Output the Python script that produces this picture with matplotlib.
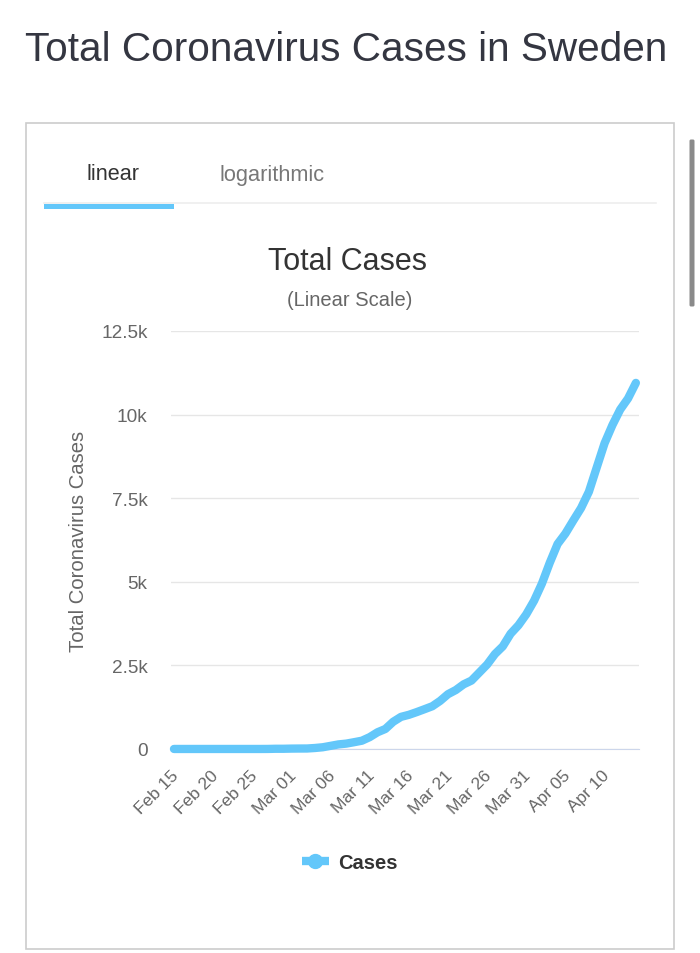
"""Total coronavirus cases in Sweden, phone screenshot style."""
import matplotlib

matplotlib.use("Agg")
import matplotlib.pyplot as plt
from matplotlib.patches import FancyBboxPatch, Rectangle
from matplotlib.transforms import ScaledTranslation

plt.rcParams["font.family"] = ["Liberation Sans", "DejaVu Sans"]

W, H = 700, 954
BLUE = "#63c7fa"

cases = [
    1, 1, 1, 1, 1, 1, 1, 1, 1, 1, 1, 1,
    2, 7, 7, 12, 14, 15, 30, 52, 94, 137,
    161, 203, 248, 355, 500, 599, 814, 961, 1022, 1103,
    1190, 1279, 1439, 1639, 1763, 1934, 2046, 2286, 2526, 2840,
    3069, 3447, 3700, 4028, 4435, 4947, 5568, 6131, 6443, 6830,
    7206, 7693, 8419, 9141, 9685, 10151, 10483, 10948,
]
tick_idx = list(range(0, 60, 5))
tick_labels = ["Feb 15", "Feb 20", "Feb 25", "Mar 01", "Mar 06", "Mar 11",
               "Mar 16", "Mar 21", "Mar 26", "Mar 31", "Apr 05", "Apr 10"]
y_ticks = [0, 2500, 5000, 7500, 10000, 12500]
y_labels = ["0", "2.5k", "5k", "7.5k", "10k", "12.5k"]


def px_axes(left, top, right, bottom):
    return [left / W, 1 - bottom / H, (right - left) / W, (bottom - top) / H]


fig = plt.figure(figsize=(W / 100, H / 100), dpi=100, facecolor="white")

# page furniture in pixel coordinates
bg = fig.add_axes([0, 0, 1, 1])
bg.set_xlim(0, W)
bg.set_ylim(H, 0)
bg.axis("off")
bg.add_patch(Rectangle((26, 124), 648, 826, fc="white", ec="#cccccc", lw=1.2))
bg.add_patch(FancyBboxPatch((691, 142), 2, 164, boxstyle="round,pad=1.5", fc="#8a8a8a", ec="none"))
bg.plot([44, 656], [204, 204], color="#eeeeee", lw=1.2, zorder=1)
bg.add_patch(Rectangle((44, 204.5), 130, 5.5, fc=BLUE, ec="none", zorder=2))
bg.text(25, 50, "Total Coronavirus Cases in Sweden", fontsize=29.2, color="#343641",
        ha="left", va="center")
bg.text(113, 175, "linear", fontsize=15.6, color="#333333", ha="center", va="center")
bg.text(272.5, 175, "logarithmic", fontsize=15.7, color="#777777", ha="center", va="center")
bg.text(347.5, 262, "Total Cases", fontsize=22, color="#333333", ha="center", va="center")
bg.text(350, 301, "(Linear Scale)", fontsize=14.5, color="#666666", ha="center", va="center")
bg.text(79, 541, "Total Coronavirus Cases", fontsize=14.6, color="#666666", rotation=90,
        ha="center", va="center")

ax = fig.add_axes(px_axes(171, 332, 639, 750))
ax.patch.set_alpha(0)
ax.plot(range(len(cases)), cases, color=BLUE, lw=6, solid_capstyle="round",
        solid_joinstyle="round", clip_on=False, zorder=3, label="Cases")
ax.set_xlim(-0.38, 59.4)
ax.set_ylim(0, 12500)
ax.set_yticks(y_ticks, y_labels)
ax.set_xticks(tick_idx, tick_labels)
ax.tick_params(axis="both", length=0, labelsize=13.7, labelcolor="#666666")
ax.tick_params(axis="y", pad=17)
ax.tick_params(axis="x", pad=13, labelsize=12.5)
nudge = ScaledTranslation(-3 / 100, 0, fig.dpi_scale_trans)
for lab in ax.get_xticklabels():
    lab.set(rotation=45, ha="right", rotation_mode="anchor")
    lab.set_transform(lab.get_transform() + nudge)
ax.grid(axis="y", color="#e6e6e6", lw=1)
ax.set_axisbelow(True)
for side in ["top", "right", "left"]:
    ax.spines[side].set_visible(False)
ax.spines["bottom"].set_color("#ccd6eb")

leg_handle, = ax.plot([], [], color=BLUE, lw=6, marker="o", ms=10, solid_capstyle="butt",
                      label="Cases")
ax.legend(handles=[leg_handle], loc="center", bbox_to_anchor=(0.382, -0.272), frameon=False,
          handlelength=1.35, handletextpad=0.45,
          prop={"weight": "bold", "size": 14.5}, labelcolor="#333333")

fig.savefig("out.png", dpi=100)
